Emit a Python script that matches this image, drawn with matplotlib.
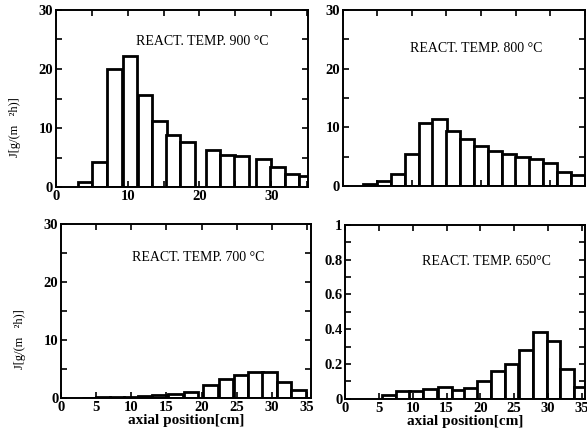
import numpy as np
import matplotlib
matplotlib.use("Agg")
import matplotlib.pyplot as plt
from matplotlib.ticker import MultipleLocator, FuncFormatter

plt.rcParams["font.family"] = ["Liberation Serif", "DejaVu Serif"]

# axial position (bar centres, cm) and flux J [g/(m2 h)]
pos_900 = [4.1, 6.1, 8.2, 10.3, 12.4, 14.4, 16.3, 18.3, 21.9, 23.9, 25.9, 28.9, 30.9, 32.9, 34.9]
j_900 = [0.8, 4.3, 20.0, 22.2, 15.6, 11.2, 8.9, 7.6, 6.2, 5.4, 5.2, 4.7, 3.4, 2.2, 1.9]

pos_800 = [4, 6, 8, 10, 12, 14, 16, 18, 20, 22, 24, 26, 28, 30, 32, 34]
j_800 = [0.3, 0.9, 2.1, 5.5, 10.7, 11.5, 9.4, 8.0, 6.9, 6.0, 5.4, 5.0, 4.7, 4.0, 2.5, 1.9]

pos_700 = [4, 6, 8, 10, 12, 14, 16.3, 18.5, 21.3, 23.5, 25.6, 27.7, 29.7, 31.7, 33.8]
j_700 = [0.05, 0.1, 0.15, 0.2, 0.3, 0.45, 0.6, 1.0, 2.3, 3.2, 3.9, 4.5, 4.4, 2.8, 1.3]

pos_650 = [6.5, 8.6, 10.5, 12.6, 14.8, 16.8, 18.6, 20.5, 22.6, 24.6, 26.7, 28.8, 30.8, 32.8, 34.8]
j_650 = [0.02, 0.045, 0.045, 0.055, 0.07, 0.05, 0.06, 0.10, 0.16, 0.20, 0.28, 0.385, 0.33, 0.17, 0.07]

labels = ["REACT. TEMP. 900 \u00b0C", "REACT. TEMP. 800 \u00b0C",
          "REACT. TEMP. 700 \u00b0C", "REACT. TEMP. 650\u00b0C"]


def fmt(v, _):
    return "%g" % round(v, 2)


fig = plt.figure(figsize=(5.87, 4.34), dpi=100)
rects = [
    [0.0954, 0.569, 0.429, 0.408],
    [0.584, 0.571, 0.412, 0.406],
    [0.104, 0.083, 0.426, 0.401],
    [0.588, 0.081, 0.409, 0.401],
]
panels = [
    (pos_900, j_900, 30, 35.1, labels[0], (0.58, 0.82)),
    (pos_800, j_800, 30, 35.0, labels[1], (0.55, 0.78)),
    (pos_700, j_700, 30, 35.6, labels[2], (0.55, 0.81)),
    (pos_650, j_650, 1, 35.5, labels[3], (0.59, 0.79)),
]

for i, (r, (x, y, ymax, xmax, lab, tpos)) in enumerate(zip(rects, panels)):
    ax = fig.add_axes(r)
    ax.bar(x, y, width=2.05, color="white", edgecolor="black", linewidth=2.0)
    ax.set_xlim(0, xmax)
    ax.set_ylim(0, ymax)
    for s in ax.spines.values():
        s.set_linewidth(1.4)
    ax.tick_params(which="both", direction="in", top=True, right=True,
                   length=4, width=1.2, labelsize=10.5, pad=2)
    ax.xaxis.set_minor_locator(MultipleLocator(5))
    if ymax == 1:
        ax.yaxis.set_major_locator(MultipleLocator(0.2))
        ax.yaxis.set_minor_locator(MultipleLocator(0.1))
    else:
        ax.yaxis.set_major_locator(MultipleLocator(10))
        ax.yaxis.set_minor_locator(MultipleLocator(5))
    ax.yaxis.set_major_formatter(FuncFormatter(fmt))
    if i == 0:
        ax.xaxis.set_major_locator(MultipleLocator(10))
    elif i == 1:
        ax.xaxis.set_major_locator(MultipleLocator(10))
        ax.tick_params(axis="x", labelbottom=False)
    else:
        ax.xaxis.set_major_locator(MultipleLocator(5))
        ax.set_xlabel("axial position[cm]", fontsize=11, fontweight="bold", labelpad=0)
    for t in ax.get_xticklabels() + ax.get_yticklabels():
        t.set_fontweight("bold")
    if i in (0, 2):
        ax.set_ylabel("J[g/(m   \u00b2h)]", fontsize=9)
        ax.yaxis.set_label_coords(-0.14, 0.34)
    ax.text(tpos[0], tpos[1], lab, transform=ax.transAxes, ha="center",
            va="center", fontsize=10)

fig.savefig("out.png", dpi=100)
